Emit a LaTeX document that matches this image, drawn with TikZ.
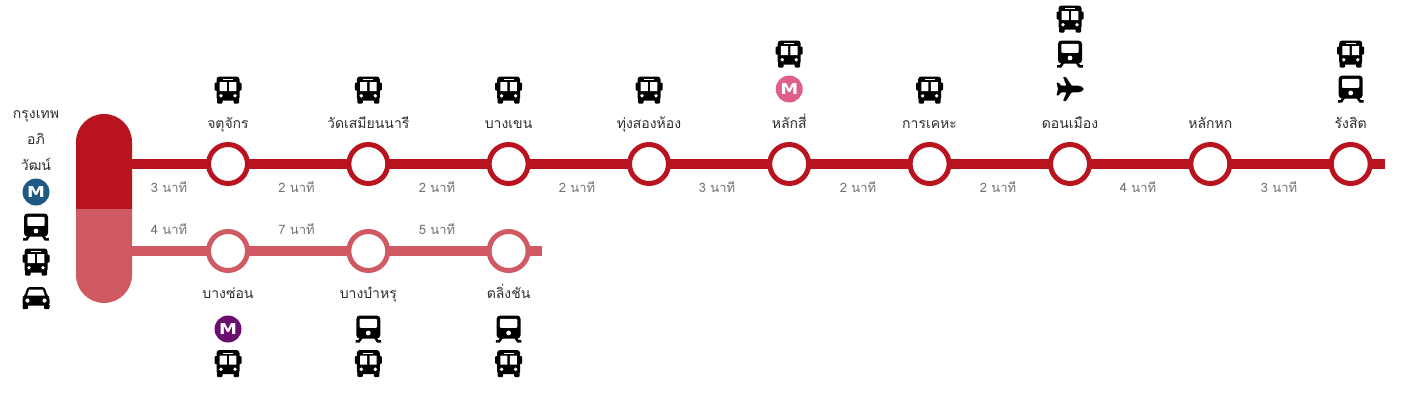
\documentclass[tikz,border=0pt]{standalone}
\usepackage{fontspec}
\newfontfamily\thaifont[Script=Thai]{Loma}
\newfontfamily\mfont{DejaVu Sans}
\definecolor{redA}{HTML}{B8131F}
\definecolor{redB}{HTML}{D05A63}
\definecolor{metroBlue}{HTML}{1F5A82}
\definecolor{metroPink}{HTML}{E05F88}
\definecolor{metroPurple}{HTML}{6A0F70}
\tikzset{
  stationA/.style={circle,draw=redA,line width=5pt,fill=white,minimum size=39pt,inner sep=0pt},
  stationB/.style={circle,draw=redB,line width=5pt,fill=white,minimum size=39pt,inner sep=0pt},
  lineA/.style={draw=redA,line width=10pt,shorten <=-2pt,shorten >=-2pt},
  lineB/.style={draw=redB,line width=10pt,shorten <=-2pt,shorten >=-2pt},
  stname/.style={font=\thaifont\fontsize{14}{16}\selectfont,text=black!82,inner sep=0pt,anchor=base},
  minlabel/.style={font=\thaifont\fontsize{13}{15}\selectfont,text=black!55,inner sep=0pt,anchor=base},
  metro/.style={circle,fill=#1,minimum size=27pt,inner sep=0pt,text=white,font=\mfont\bfseries\fontsize{15}{15}\selectfont},
  busicon/.pic={
    \fill[black,rounded corners=3pt] (-11.5,-13.5) rectangle (11.5,10.5);
    \fill[black,rounded corners=1pt] (-13.5,-7.5) rectangle (-10,0.5) (10,-7.5) rectangle (13.5,0.5);
    \fill[black,rounded corners=1pt] (-11,8) rectangle (-5.5,13.5) (5.5,8) rectangle (11,13.5);
    \fill[white] (-5,-11) rectangle (5,-9.8);
    \fill[white] (-8.3,-7.8) rectangle (-1.2,1) (1.2,-7.8) rectangle (8.3,1);
    \fill[white] (-7,5.8) circle (1.9) (7,5.8) circle (1.9);
  },
  trainicon/.pic={
    \fill[black,rounded corners=3.5pt] (-12,-13.5) rectangle (12,9.5);
    \fill[white,rounded corners=1pt] (-8.7,-10.2) rectangle (8.7,-1.2);
    \fill[white] (0,4) circle (2.4);
    \draw[black,line width=2.6pt] (-6.5,8) -- (-9.5,12.4) -- (-12.8,12.4) (6.5,8) -- (9.5,12.4) -- (12.8,12.4);
  },
  planeicon/.pic={
    \fill[black,rounded corners=0.8pt] (13.5,0) .. controls (13,-2) and (10,-3.4) .. (7,-3.4)
      -- (1.5,-3.4) -- (-4,-12) -- (-7,-12) -- (-3.5,-3.4) -- (-9,-3.4) -- (-11.5,-6.5) -- (-13.5,-6.5)
      -- (-12,0) -- (-13.5,6.5) -- (-11.5,6.5) -- (-9,3.4) -- (-3.5,3.4) -- (-7,12) -- (-4,12)
      -- (1.5,3.4) -- (7,3.4) .. controls (10,3.4) and (13,2) .. (13.5,0) -- cycle;
  },
  caricon/.pic={
    \fill[black,rounded corners=2.5pt] (-8.5,-11) -- (8.5,-11) -- (11.5,-2) -- (13.5,-1) -- (13.5,7.5) -- (-13.5,7.5) -- (-13.5,-1) -- (-11.5,-2) -- cycle;
    \fill[black,rounded corners=1pt] (-13.5,6) rectangle (-8,11) (8,6) rectangle (13.5,11);
    \fill[white] (-6.8,-8.5) -- (6.8,-8.5) -- (8.8,-2.5) -- (-8.8,-2.5) -- cycle;
    \fill[white] (-8.5,2.5) circle (2.1) (8.5,2.5) circle (2.1);
  }
}
\newcommand{\metroM}{\scalebox{1.2}[1]{M}}
\begin{document}
\begin{tikzpicture}[x=1pt,y=-1pt]
\useasboundingbox (0,0) rectangle (1425,413);
% capsule terminal
\fill[redA] (76,209) -- (76,142) arc[start angle=180,end angle=360,radius=28] -- (132,209) -- cycle;
\fill[redB] (76,209) -- (76,275) arc[start angle=180,end angle=0,radius=28] -- (132,209) -- cycle;
\coordinate (capA) at (130,164);
\coordinate (capB) at (130,251);
\coordinate (endA) at (1383,164);
\coordinate (endB) at (540,251);
% stations
\foreach \n/\x in {a1/228,a2/368.3,a3/508.6,a4/649,a5/789.2,a6/929.6,a7/1070,a8/1210.3,a9/1350.7}
  \node[stationA] (\n) at (\x,164) {};
\foreach \n/\x in {b1/228,b2/368.3,b3/508.6}
  \node[stationB] (\n) at (\x,251) {};
% connectors
\draw[lineA] (capA) -- (a1);
\draw[lineA] (a1) -- (a2);
\draw[lineA] (a2) -- (a3);
\draw[lineA] (a3) -- (a4);
\draw[lineA] (a4) -- (a5);
\draw[lineA] (a5) -- (a6);
\draw[lineA] (a6) -- (a7);
\draw[lineA] (a7) -- (a8);
\draw[lineA] (a8) -- (a9);
\draw[lineA] (a9) -- (endA);
\draw[lineB] (capB) -- (b1);
\draw[lineB] (b1) -- (b2);
\draw[lineB] (b2) -- (b3);
\draw[lineB] (b3) -- (endB);
% station names
\foreach \n/\x/\t in {na1/228/จตุจักร,na2/368.3/วัดเสมียนนารี,na3/508.6/บางเขน,na4/649/ทุ่งสองห้อง,na5/789.2/หลักสี่,na6/929.6/การเคหะ,na7/1070/ดอนเมือง,na8/1210.3/หลักหก,na9/1350.7/รังสิต}
  \node[stname] (\n) at (\x,128) {\t};
\foreach \n/\x/\t in {nb1/228/บางซ่อน,nb2/368.3/บางบำหรุ,nb3/508.6/ตลิ่งชัน}
  \node[stname] (\n) at (\x,298) {\t};
\node[stname] (t1) at (36,118) {กรุงเทพ};
\node[stname] (t2) at (36,144) {อภิ};
\node[stname] (t3) at (36,170) {วัฒน์};
% travel times
\foreach \n/\x/\t in {m1/169/3,m2/296.5/2,m3/437/2,m4/577/2,m5/717/3,m6/858/2,m7/998/2,m8/1138/4,m9/1279/3}
  \node[minlabel] (\n) at (\x,192) {\t\ นาที};
\foreach \n/\x/\t in {k1/169/4,k2/296.5/7,k3/437/5}
  \node[minlabel] (\n) at (\x,234) {\t\ นาที};
% icons: top row
\foreach \x in {228,368.3,508.6,649,929.6} \pic at (\x,90) {busicon};
\pic at (789.2,54) {busicon};
\node[metro=metroPink] (mp) at (789.2,89) {\metroM};
\pic at (1070,19) {busicon};
\pic at (1070,54) {trainicon};
\pic at (1070,89) {planeicon};
\pic at (1350.7,54) {busicon};
\pic at (1350.7,89) {trainicon};
% icons: bottom row
\node[metro=metroPurple] (mv) at (228,329) {\metroM};
\pic at (228,363.5) {busicon};
\pic at (368.3,329) {trainicon};
\pic at (368.3,363.5) {busicon};
\pic at (508.6,329) {trainicon};
\pic at (508.6,363.5) {busicon};
% icons: left column
\node[metro=metroBlue] (mb) at (36,192) {\metroM};
\pic at (36,227) {trainicon};
\pic at (36,262) {busicon};
\pic at (36,298) {caricon};
\end{tikzpicture}
\end{document}
